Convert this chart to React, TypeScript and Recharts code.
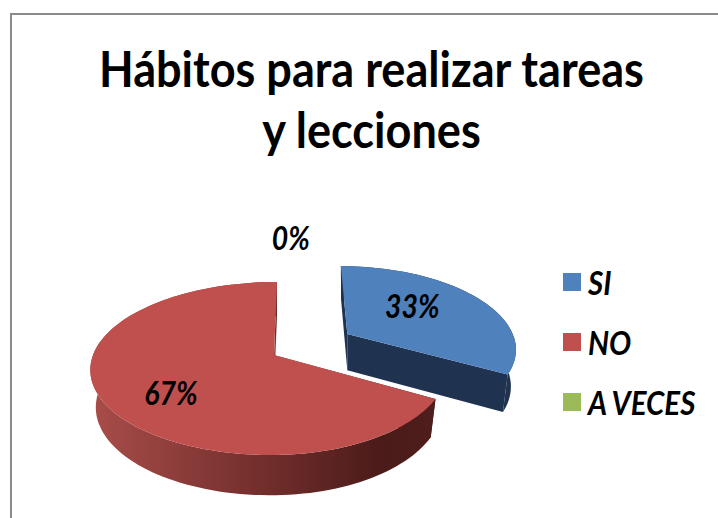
import React from 'react'
import { PieChart, Pie, Cell } from 'recharts'

const categories = ['SI', 'NO', 'A VECES']
const values = [33, 67, 0]
const colors = ['#4F81BD', '#C0504D', '#9BBB59']
const wallColors = ['#1F3350', 'url(#redWall)', '#5f7336']

const chartData = categories.map((name, i) => ({ name, value: values[i] }))

const FONT = 'Lato, Carlito, sans-serif'
const CX = 274
const CY = 355
const RX_LEFT = 181
const RX_RIGHT = 172
const RY = 84.4
const TILT = 0.156
const SHEAR = 3
const DEPTH = 37
const BOTTOM_SCALE = 0.97
const EXPLODE: Record<string, number> = { SI: 0.51 }
const LABEL_SPOT: Record<string, { f: number; dx: number; dy: number }> = {
  SI: { f: 0.55, dx: -8, dy: -7 },
  NO: { f: 0.6, dx: -4, dy: 11 },
  'A VECES': { f: 1.6, dx: 12, dy: -9 },
}

const rad = (a: number) => (a * Math.PI) / 180

// flat pie plane -> screen, nearer points get bigger
function project(u: number, v: number): [number, number] {
  const s = 1 / (1 - TILT * v)
  const rx = u < 0 ? RX_LEFT : RX_RIGHT
  return [CX + rx * u * s - SHEAR * v, CY + RY * v * s]
}

// same point on the underside, pulled in towards the slice's own apex
function projectLow(u: number, v: number, apexX: number): [number, number] {
  const [x, y] = project(u, v)
  const s = 1 / (1 - TILT * v)
  return [apexX + (x - apexX) * BOTTOM_SCALE, y + DEPTH * Math.sqrt(s)]
}

const pathOf = (pts: [number, number][]) =>
  'M' + pts.map((p) => `${p[0].toFixed(1)},${p[1].toFixed(1)}`).join('L') + 'Z'

function Slice3D(props: any) {
  const { startAngle, endAngle, name, index } = props
  if (Math.abs(endAngle - startAngle) < 0.01) return null
  const mid = (startAngle + endAngle) / 2
  const e = EXPLODE[name] || 0
  const u0 = e * Math.cos(rad(mid))
  const v0 = -e * Math.sin(rad(mid))

  const steps = Math.ceil(Math.abs(endAngle - startAngle) / 2)
  const arc: [number, number][] = []
  for (let i = 0; i <= steps; i++) {
    const a = rad(startAngle + ((endAngle - startAngle) * i) / steps)
    arc.push([u0 + Math.cos(a), v0 - Math.sin(a)])
  }
  const apexTop = project(u0, v0)
  const top = arc.map((p) => project(p[0], p[1]))
  const low = arc.map((p) => projectLow(p[0], p[1], apexTop[0]))
  const apexLow = projectLow(u0, v0, apexTop[0])
  const wall = wallColors[index]

  return (
    <g>
      <defs>
        <linearGradient id="redWall" x1="0" y1="0" x2="1" y2="0">
          <stop offset="0" stopColor="#A94D4A" />
          <stop offset="0.5" stopColor="#722E2C" />
          <stop offset="0.85" stopColor="#4A1B19" />
          <stop offset="1" stopColor="#4F1E1C" />
        </linearGradient>
      </defs>
      <path d={pathOf([apexTop, top[0], low[0], apexLow])} fill={wall} />
      <path d={pathOf([apexTop, top[steps], low[steps], apexLow])} fill={wall} />
      <path d={pathOf([...top, ...[...low].reverse()])} fill={wall} />
      <path d={pathOf([apexTop, ...top])} fill={colors[index]} />
    </g>
  )
}

function SliceLabel(props: any) {
  const { midAngle, name, percent } = props
  const spot = LABEL_SPOT[name]
  const e = EXPLODE[name] || 0
  const u = (e + spot.f) * Math.cos(rad(midAngle))
  const v = -(e + spot.f) * Math.sin(rad(midAngle))
  const [x, y] = project(u, v)
  return (
    <text
      transform={`translate(${x + spot.dx} ${y + spot.dy}) scale(0.86 1)`}
      textAnchor="middle"
      dominantBaseline="central"
      fontFamily={FONT}
      fontWeight={700}
      fontStyle="italic"
      fontSize={33}
      fill="#000"
    >
      {Math.round(percent * 100)}%
    </text>
  )
}

export default function App() {
  return (
    <div style={{ position: 'absolute', left: 0, top: 0, width: 718, height: 518, background: '#fff', overflow: 'hidden' }}>
      <div style={{ position: 'absolute', left: 10, top: 13, width: 720, height: 520, borderLeft: '2px solid #8a8a8a', borderTop: '2px solid #8a8a8a' }} />
      <div
        style={{
          position: 'absolute',
          left: 0,
          top: 38,
          width: 743,
          textAlign: 'center',
          fontFamily: FONT,
          fontWeight: 700,
          fontSize: 49,
          lineHeight: '61px',
          color: '#000',
          transform: 'scaleX(0.92)',
          transformOrigin: '371px 0',
        }}
      >
        Hábitos para realizar tareas
        <br />y lecciones
      </div>
      <PieChart width={718} height={518} style={{ position: 'absolute', left: 0, top: 0 }}>
        <Pie
          data={chartData}
          dataKey="value"
          nameKey="name"
          cx={CX}
          cy={CY}
          outerRadius={100}
          startAngle={90}
          endAngle={-270}
          stroke="none"
          shape={Slice3D}
          label={SliceLabel}
          labelLine={false}
          isAnimationActive={false}
        >
          {categories.map((c, i) => (
            <Cell key={c} fill={colors[i]} />
          ))}
        </Pie>
      </PieChart>
      <div style={{ position: 'absolute', left: 563, top: 252 }}>
        {categories.map((c, i) => (
          <div key={c} style={{ display: 'flex', alignItems: 'center', height: 60 }}>
            <span style={{ width: 18, height: 18, background: colors[i], display: 'inline-block' }} />
            <span
              style={{
                marginLeft: 7,
                fontFamily: FONT,
                fontWeight: 700,
                fontStyle: 'italic',
                fontSize: 32,
                color: '#000',
                whiteSpace: 'nowrap',
                transform: 'scaleX(0.92)',
                transformOrigin: '0 50%',
              }}
            >
              {c}
            </span>
          </div>
        ))}
      </div>
    </div>
  )
}
